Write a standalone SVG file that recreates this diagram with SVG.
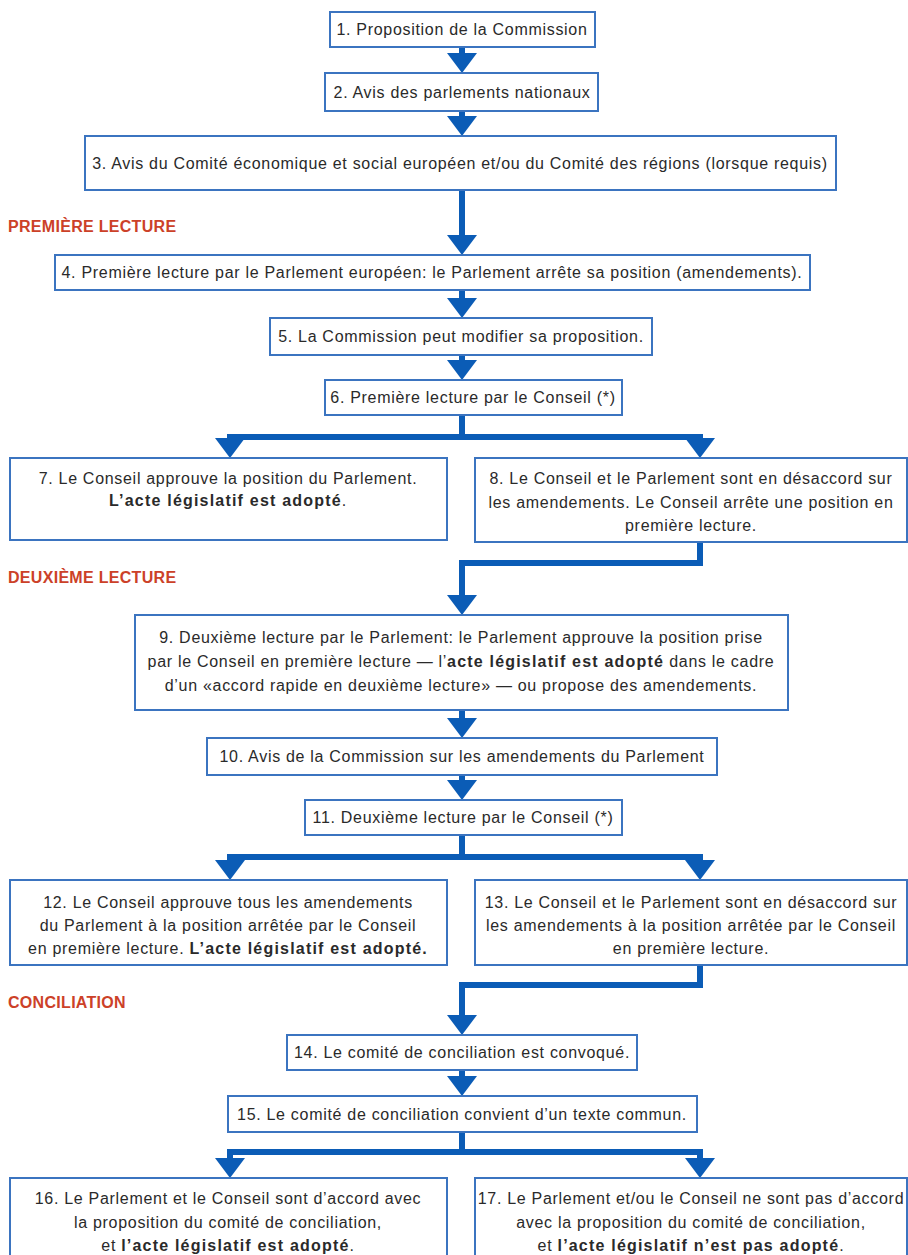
<svg xmlns="http://www.w3.org/2000/svg" width="908" height="1255" viewBox="0 0 908 1255">
<style>
.box{fill:#fff;stroke:#3b74c0;stroke-width:2}
.t{font-family:"Liberation Sans",Arial,sans-serif;font-size:16px;letter-spacing:0.7px;fill:#2a2a2a;text-anchor:middle}
.b{font-weight:bold;letter-spacing:1.2px}
.hd{font-family:"Liberation Sans",Arial,sans-serif;font-size:16px;font-weight:bold;letter-spacing:0.3px;fill:#cc4128}
.c{fill:none;stroke:#0b5cb6;stroke-width:6;stroke-linejoin:miter}
</style>
<defs>
<marker id="ah" markerUnits="userSpaceOnUse" viewBox="0 0 20 30" markerWidth="20" markerHeight="30" refX="10" refY="15" orient="auto">
<path d="M0,0 L20,15 L0,30 z" fill="#0b5cb6"/>
</marker>
</defs>
<rect width="908" height="1255" fill="#fff"/>
<g id="headers">
<text class="hd" x="8" y="232">PREMIÈRE LECTURE</text>
<text class="hd" x="8" y="583">DEUXIÈME LECTURE</text>
<text class="hd" x="8" y="1008">CONCILIATION</text>
</g>
<g id="connectors">
<path class="c" marker-end="url(#ah)" d="M462,47 V63"/>
<path class="c" marker-end="url(#ah)" d="M462,111 V126"/>
<path class="c" marker-end="url(#ah)" d="M462,190 V245"/>
<path class="c" marker-end="url(#ah)" d="M462,290 V308"/>
<path class="c" marker-end="url(#ah)" d="M462,355 V370"/>
<path class="c" marker-end="url(#ah)" d="M462,415 V437 H230 V448"/>
<path class="c" marker-end="url(#ah)" d="M462,437 H700 V448"/>
<path class="c" marker-end="url(#ah)" d="M700,542 V563 H462 V605"/>
<path class="c" marker-end="url(#ah)" d="M462,710 V728"/>
<path class="c" marker-end="url(#ah)" d="M462,775 V790"/>
<path class="c" marker-end="url(#ah)" d="M462,835 V857 H230 V870"/>
<path class="c" marker-end="url(#ah)" d="M462,857 H700 V870"/>
<path class="c" marker-end="url(#ah)" d="M700,965 V985 H462 V1025"/>
<path class="c" marker-end="url(#ah)" d="M462,1070 V1086"/>
<path class="c" marker-end="url(#ah)" d="M462,1132 V1152 H230 V1168"/>
<path class="c" marker-end="url(#ah)" d="M462,1152 H700 V1168"/>
</g>
<g id="n1"><rect class="box" x="330" y="12" width="265" height="35"/><text class="t" x="462" y="35">1. Proposition de la Commission</text></g>
<g id="n2"><rect class="box" x="325" y="73" width="273" height="38"/><text class="t" x="462" y="98">2. Avis des parlements nationaux</text></g>
<g id="n3"><rect class="box" x="85" y="136" width="751" height="54"/><text class="t" x="460" y="169">3. Avis du Comité économique et social européen et/ou du Comité des régions (lorsque requis)</text></g>
<g id="n4"><rect class="box" x="55" y="255" width="755" height="35"/><text class="t" x="432" y="278">4. Première lecture par le Parlement européen: le Parlement arrête sa position (amendements).</text></g>
<g id="n5"><rect class="box" x="270" y="318" width="382" height="37"/><text class="t" x="461" y="342">5. La Commission peut modifier sa proposition.</text></g>
<g id="n6"><rect class="box" x="325" y="380" width="297" height="35"/><text class="t" x="473" y="403">6. Première lecture par le Conseil (*)</text></g>
<g id="n7"><rect class="box" x="10" y="458" width="437" height="82"/>
<text class="t" x="228" y="484">7. Le Conseil approuve la position du Parlement.</text>
<text class="t" x="228" y="506"><tspan class="b">L’acte législatif est adopté</tspan>.</text></g>
<g id="n8"><rect class="box" x="475" y="458" width="432" height="84"/>
<text class="t" x="691" y="484">8. Le Conseil et le Parlement sont en désaccord sur</text>
<text class="t" x="691" y="508">les amendements. Le Conseil arrête une position en</text>
<text class="t" x="691" y="531">première lecture.</text></g>
<g id="n9"><rect class="box" x="135" y="615" width="653" height="95"/>
<text class="t" x="461" y="643">9. Deuxième lecture par le Parlement: le Parlement approuve la position prise</text>
<text class="t" x="461" y="667">par le Conseil en première lecture — l’<tspan class="b">acte législatif est adopté</tspan> dans le cadre</text>
<text class="t" x="461" y="691">d’un «accord rapide en deuxième lecture» — ou propose des amendements.</text></g>
<g id="n10"><rect class="box" x="207" y="738" width="510" height="37"/><text class="t" x="462" y="762">10. Avis de la Commission sur les amendements du Parlement</text></g>
<g id="n11"><rect class="box" x="305" y="800" width="317" height="35"/><text class="t" x="463" y="823">11. Deuxième lecture par le Conseil (*)</text></g>
<g id="n12"><rect class="box" x="10" y="880" width="437" height="85"/>
<text class="t" x="228" y="908">12. Le Conseil approuve tous les amendements</text>
<text class="t" x="228" y="931">du Parlement à la position arrêtée par le Conseil</text>
<text class="t" x="228" y="954">en première lecture. <tspan class="b">L’acte législatif est adopté.</tspan></text></g>
<g id="n13"><rect class="box" x="475" y="880" width="432" height="85"/>
<text class="t" x="691" y="908">13. Le Conseil et le Parlement sont en désaccord sur</text>
<text class="t" x="691" y="931">les amendements à la position arrêtée par le Conseil</text>
<text class="t" x="691" y="954">en première lecture.</text></g>
<g id="n14"><rect class="box" x="287" y="1035" width="350" height="35"/><text class="t" x="462" y="1058">14. Le comité de conciliation est convoqué.</text></g>
<g id="n15"><rect class="box" x="228" y="1096" width="469" height="36"/><text class="t" x="462" y="1120">15. Le comité de conciliation convient d’un texte commun.</text></g>
<g id="n16"><rect class="box" x="10" y="1178" width="437" height="90"/>
<text class="t" x="228" y="1204">16. Le Parlement et le Conseil sont d’accord avec</text>
<text class="t" x="228" y="1228">la proposition du comité de conciliation,</text>
<text class="t" x="228" y="1251">et <tspan class="b">l’acte législatif est adopté</tspan>.</text></g>
<g id="n17"><rect class="box" x="475" y="1178" width="432" height="90"/>
<text class="t" x="691" y="1204">17. Le Parlement et/ou le Conseil ne sont pas d’accord</text>
<text class="t" x="691" y="1228">avec la proposition du comité de conciliation,</text>
<text class="t" x="691" y="1251">et <tspan class="b">l’acte législatif n’est pas adopté</tspan>.</text></g>
</svg>
